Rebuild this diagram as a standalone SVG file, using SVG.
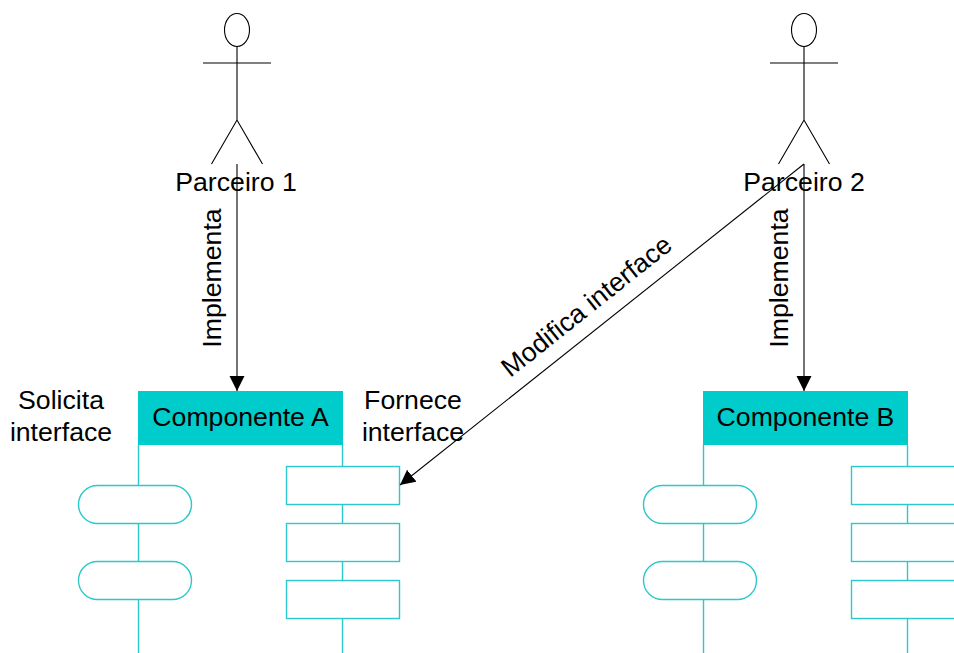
<svg xmlns="http://www.w3.org/2000/svg" width="954" height="653" viewBox="0 0 954 653">
<style>
text{font-family:"Liberation Sans",Arial,sans-serif;font-size:26.67px;fill:#000;text-anchor:middle}
.a{fill:none;stroke:#000;stroke-width:1.1}
.t{fill:none;stroke:#2cc8cc;stroke-width:1.4}
.b{fill:#fff;stroke:#2cc8cc;stroke-width:1.4}
.h{fill:#00cccc;stroke:none}
</style>
<defs>
<marker id="arr" markerUnits="userSpaceOnUse" markerWidth="16" markerHeight="16" refX="15" refY="7.500" orient="auto"><path d="M0 0L15 7.500L0 15Z" fill="#000"/></marker>
<g id="actor">
<ellipse class="a" cx="0" cy="30" rx="12.500" ry="16.500"/>
<path class="a" d="M0 46.500V120M-34 63H34M-25.500 164L0 120L25.500 164"/>
</g>
</defs>
<rect width="954" height="653" fill="#fff"/>
<g id="actor1"><use href="#actor" x="237"/><text x="236" y="191">Parceiro 1</text></g>
<g id="actor2"><use href="#actor" x="804"/><text x="804" y="191">Parceiro 2</text></g>
<g id="compA">
<path class="t" d="M138.500 445V653M342.500 445V653"/>
<rect class="h" x="138" y="391" width="205" height="54"/>
<text x="240.500" y="426">Componente A</text>
<rect class="b" x="78.500" y="485.500" width="113" height="38" rx="19"/>
<rect class="b" x="78.500" y="561.500" width="113" height="38" rx="19"/>
<rect class="b" x="286.500" y="466.500" width="113" height="38"/>
<rect class="b" x="286.500" y="523.500" width="113" height="38"/>
<rect class="b" x="286.500" y="580.500" width="113" height="38"/>
</g>
<g id="compB">
<path class="t" d="M703.500 445V653M907.500 445V653"/>
<rect class="h" x="703" y="391" width="205" height="54"/>
<text x="805.500" y="426">Componente B</text>
<rect class="b" x="643.500" y="485.500" width="113" height="38" rx="19"/>
<rect class="b" x="643.500" y="561.500" width="113" height="38" rx="19"/>
<rect class="b" x="851.500" y="466.500" width="113" height="38"/>
<rect class="b" x="851.500" y="523.500" width="113" height="38"/>
<rect class="b" x="851.500" y="580.500" width="113" height="38"/>
</g>
<g id="labels">
<text x="61" y="409">Solicita</text>
<text x="61" y="441">interface</text>
<text x="413" y="409">Fornece</text>
<text x="413" y="441">interface</text>
</g>
<g id="connectors">
<path class="a" d="M237 164V391" marker-end="url(#arr)"/>
<path class="a" d="M804 164V391" marker-end="url(#arr)"/>
<path class="a" d="M804 164L400 485" marker-end="url(#arr)"/>
<text transform="translate(221 278) rotate(-90)">Implementa</text>
<text transform="translate(788 278) rotate(-90)">Implementa</text>
<text transform="translate(592 313) rotate(-38.500)">Modifica interface</text>
</g>
</svg>
